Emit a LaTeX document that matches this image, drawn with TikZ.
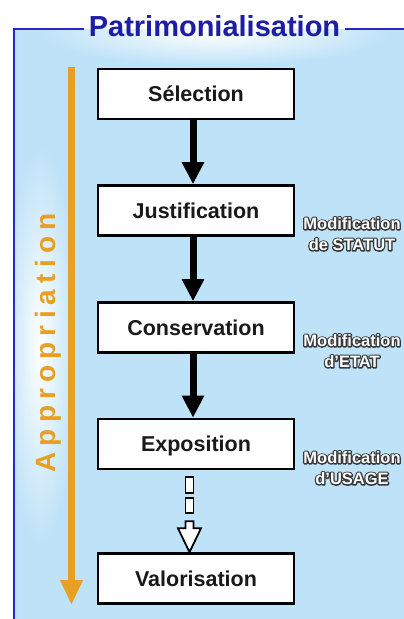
\documentclass[tikz,border=0pt]{standalone}
\usepackage{fontspec}
\setmainfont{Liberation Sans}
\newfontfamily\apfont{Liberation Sans Bold}[LetterSpace=22]
\usetikzlibrary{arrows.meta,calc}
\definecolor{bg}{RGB}{190,226,248}
\definecolor{framecol}{RGB}{40,40,200}
\definecolor{titlecol}{RGB}{30,30,165}
\definecolor{orng}{RGB}{232,160,36}
\definecolor{txt}{RGB}{25,25,25}
\newcommand\outlined[1]{\rlap{\special{pdf:literal direct 1 Tr 1 j 1 J 2.6 w 0.22 0.22 0.22 RG}#1\special{pdf:literal direct 0 Tr 0 j 0 J}}#1}
\tikzset{
  stepbox/.style={draw=black, line width=2.6pt, fill=white, minimum width=196pt,
    minimum height=50pt, inner sep=0pt, text=txt, text height=15pt, text depth=0pt,
    font=\bfseries\fontsize{21.5}{21.5}\selectfont},
  flow/.style={line width=7pt, -{Triangle[width=21pt,length=22pt]}},
  hollow/.style={draw=black, fill=white, line width=1.8pt, line join=miter},
  lab/.style={text=white, font=\bfseries\fontsize{16.5}{21}\selectfont, align=center, inner sep=0pt},
  frameline/.style={framecol, line width=2.5pt}
}
\begin{document}
\begin{tikzpicture}[x=1pt,y=-1pt]
\useasboundingbox (0,0) rectangle (404,619);
\fill[white] (0,0) rectangle (404,619);
\fill[bg] (14,29) rectangle (404,619);
\begin{scope}
  \clip (14,29) rectangle (404,619);
  \shade[inner color=white, outer color=bg] (215,32) ellipse [x radius=175, y radius=34];
  \shade[inner color=white, outer color=bg] (40,345) ellipse [x radius=36, y radius=200];
\end{scope}
% corners of frame
\coordinate (fb) at (14,619);
\coordinate (fc) at (14,29);
\coordinate (fr) at (404,29);
% title
\node[font=\bfseries\fontsize{29}{29}\selectfont, text=titlecol, anchor=base, inner sep=2pt] (title) at (214.5,36) {Patrimonialisation};
\draw[frameline] (fb) -- (fc) -- ([xshift=-3pt]title.west |- fc);
\draw[frameline] ([xshift=3pt]title.east |- fc) -- (fr);
% appropriation arrow and text
\coordinate (oa1) at (71.5,67);
\coordinate (oa2) at (71.5,605);
\draw[orng, line width=7pt, -{Triangle[width=21pt,length=25pt]}] (oa1) -- (oa2);
\node[rotate=90, anchor=base, inner sep=0pt, text=orng, font=\apfont\fontsize{28}{28}\selectfont] (ap) at (55,343) {Appropriation};
% boxes
\node[stepbox] (se) at (196,94) {Sélection};
\node[stepbox] (ju) at (196,210.5) {Justification};
\node[stepbox] (co) at (196,327.5) {Conservation};
\node[stepbox] (ex) at (196,444) {Exposition};
\node[stepbox] (va) at (196,578.5) {Valorisation};
% solid arrows
\draw[flow] ([xshift=-3pt]se.south) -- ([xshift=-3pt]ju.north);
\draw[flow] ([xshift=-3pt]ju.south) -- ([xshift=-3pt]co.north);
\draw[flow] ([xshift=-3pt]co.south) -- ([xshift=-3pt]ex.north);
% dashed hollow arrow
\coordinate (h0) at ($(ex.south)+(-6.5,0)$);
\coordinate (tip) at ($(va.north)+(-6.5,0)$);
\draw[hollow] ($(h0)+(-4,7)$) rectangle ($(h0)+(4,23)$);
\draw[hollow] ($(h0)+(-4,28)$) rectangle ($(h0)+(4,43)$);
\draw[hollow] ($(h0)+(-4,51)$) -- ($(h0)+(-4,58)$) -- ($(h0)+(-11.5,58)$) -- (tip)
  -- ($(h0)+(11.5,58)$) -- ($(h0)+(4,58)$) -- ($(h0)+(4,51)$) -- cycle;
% side labels
\node[lab] (l1) at (352,234) {\outlined{Modification}\\\outlined{de STATUT}};
\node[lab] (l2) at (352,351) {\outlined{Modification}\\\outlined{d'ETAT}};
\node[lab] (l3) at (352,468) {\outlined{Modification}\\\outlined{d'USAGE}};
\end{tikzpicture}
\end{document}
